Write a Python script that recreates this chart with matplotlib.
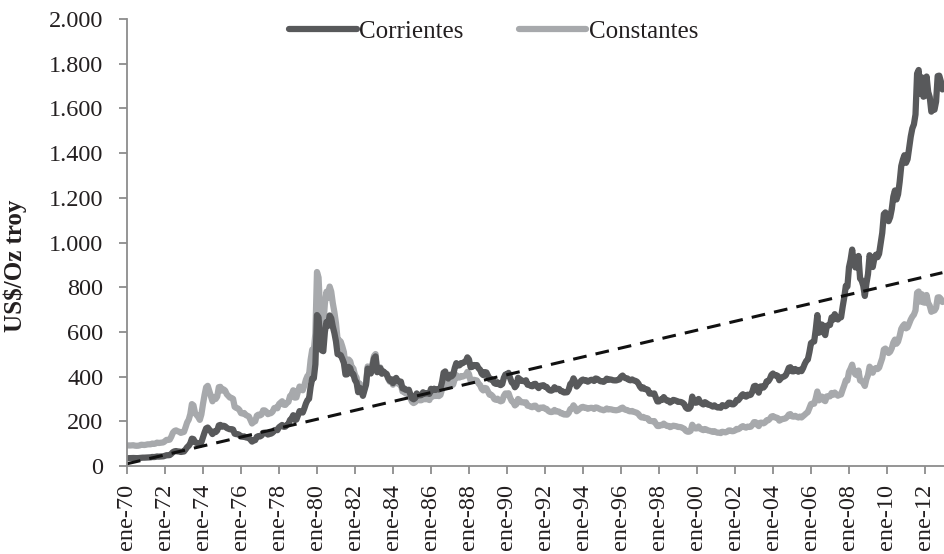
import matplotlib
matplotlib.use("Agg")
import matplotlib.pyplot as plt
import numpy as np

# Precio del oro, promedio mensual, ene-1970 a dic-2012 (US$/Oz troy)
corrientes = [
    34.9, 35.0, 35.1, 35.6, 35.9, 35.4, 35.3, 35.4, 36.2, 37.5, 37.4, 37.4,
    37.9, 38.7, 38.9, 39.0, 40.5, 40.1, 40.9, 42.7, 42.0, 42.5, 42.9, 43.5,
    45.8, 48.3, 48.3, 49.0, 54.6, 62.1, 65.7, 67.0, 65.5, 64.9, 62.9, 63.9,
    65.1, 74.2, 84.4, 90.5, 102.0, 122.5, 120.2, 106.8, 103.0, 100.1, 94.8, 106.7,
    129.2, 150.2, 168.4, 172.2, 163.3, 154.1, 143.0, 154.6, 151.8, 158.8, 181.7, 183.9,
    175.8, 180.0, 177.9, 170.0, 167.0, 164.2, 165.1, 163.2, 144.6, 142.8, 142.7, 139.3,
    131.6, 131.1, 132.6, 128.2, 127.1, 125.8, 117.9, 109.2, 114.1, 116.0, 130.6, 133.9,
    132.3, 136.3, 148.2, 149.2, 146.7, 140.8, 143.4, 145.0, 149.5, 159.6, 161.6, 160.4,
    173.2, 178.2, 183.7, 175.4, 176.3, 183.7, 188.8, 206.6, 212.4, 227.4, 206.1, 207.8,
    227.3, 245.7, 242.1, 239.2, 257.6, 279.1, 294.7, 301.0, 355.1, 391.7, 392.5, 455.1,
    675.3, 665.3, 553.6, 517.4, 513.8, 600.7, 644.3, 627.0, 673.6, 661.1, 623.5, 594.9,
    557.4, 500.5, 498.8, 495.8, 479.7, 460.8, 409.3, 410.2, 443.6, 437.7, 413.4, 410.1,
    384.1, 374.2, 330.4, 350.2, 333.9, 314.0, 339.1, 364.3, 436.1, 422.0, 413.9, 444.7,
    481.3, 490.4, 419.7, 432.8, 437.8, 413.0, 422.6, 416.2, 411.9, 393.6, 381.7, 388.2,
    370.9, 385.8, 394.3, 381.4, 377.7, 377.6, 347.4, 347.7, 341.1, 340.2, 341.2, 320.2,
    303.0, 298.6, 303.9, 324.9, 316.4, 316.4, 317.4, 330.0, 323.5, 326.0, 325.3, 322.7,
    345.4, 339.0, 346.0, 340.4, 342.4, 342.6, 348.3, 376.8, 418.0, 423.3, 398.0, 391.3,
    408.3, 401.1, 408.9, 438.4, 460.2, 449.6, 450.6, 460.6, 460.1, 465.4, 467.7, 486.2,
    476.7, 442.1, 443.6, 451.8, 451.3, 451.5, 437.7, 431.3, 413.4, 406.8, 420.2, 418.7,
    404.0, 387.9, 390.1, 384.2, 371.0, 367.6, 375.0, 365.4, 361.8, 366.9, 394.3, 409.4,
    410.1, 416.8, 393.1, 374.3, 369.1, 352.3, 361.2, 394.8, 389.2, 380.8, 381.4, 378.2,
    383.7, 363.8, 363.3, 358.4, 356.8, 366.7, 367.7, 356.2, 348.7, 358.7, 360.0, 361.7,
    354.5, 353.9, 344.3, 338.6, 337.2, 340.8, 352.6, 343.4, 345.6, 344.4, 335.0, 334.8,
    329.0, 329.3, 330.1, 342.2, 367.2, 371.5, 392.2, 378.5, 355.6, 364.2, 373.8, 383.3,
    387.0, 382.0, 384.0, 377.3, 381.4, 385.6, 385.5, 380.4, 391.6, 389.8, 384.4, 379.3,
    378.6, 376.5, 382.1, 391.0, 385.2, 387.6, 386.2, 383.7, 383.1, 383.1, 385.5, 387.5,
    399.4, 404.8, 396.2, 392.8, 392.0, 385.3, 383.5, 387.5, 383.1, 381.1, 377.8, 369.1,
    355.0, 346.6, 351.8, 344.5, 343.8, 340.8, 324.1, 324.0, 322.8, 324.9, 306.0, 289.0,
    289.1, 297.5, 295.9, 308.4, 299.1, 292.3, 292.9, 284.1, 289.0, 295.9, 294.1, 291.6,
    287.1, 287.3, 286.0, 282.6, 276.4, 261.3, 256.1, 256.7, 265.0, 310.7, 293.2, 283.1,
    284.3, 300.0, 286.4, 280.0, 275.3, 285.7, 281.6, 274.5, 273.7, 270.1, 266.0, 271.5,
    265.5, 261.9, 263.0, 260.5, 272.4, 270.2, 267.5, 272.4, 283.4, 283.1, 276.2, 275.9,
    281.7, 295.5, 294.0, 302.7, 314.5, 321.2, 313.3, 310.3, 319.2, 316.6, 319.2, 333.4,
    356.9, 359.0, 340.6, 328.2, 355.7, 356.4, 351.0, 359.8, 378.9, 378.9, 389.9, 407.6,
    414.0, 405.3, 406.7, 403.0, 383.8, 392.4, 398.1, 400.5, 405.3, 420.5, 439.4, 442.1,
    424.0, 423.4, 434.2, 429.2, 421.9, 430.7, 424.5, 437.9, 456.0, 469.9, 476.7, 509.8,
    549.9, 555.0, 557.1, 610.6, 675.4, 596.2, 633.7, 632.6, 598.2, 585.8, 627.8, 629.8,
    631.2, 664.8, 654.9, 679.4, 666.9, 655.5, 665.3, 665.4, 712.7, 754.6, 806.3, 803.2,
    889.6, 922.3, 968.4, 909.7, 888.7, 889.5, 939.8, 839.0, 829.9, 806.6, 760.9, 816.1,
    858.7, 943.2, 924.3, 890.2, 928.6, 945.7, 934.2, 949.4, 996.6, 1043.2, 1127.0, 1134.7,
    1117.9, 1095.4, 1113.3, 1148.7, 1205.4, 1232.9, 1192.6, 1215.8, 1271.0, 1342.0, 1369.9, 1390.6,
    1356.4, 1372.7, 1424.0, 1473.8, 1510.4, 1528.7, 1572.8, 1755.8, 1771.9, 1665.2, 1738.9, 1652.3,
    1656.1, 1742.6, 1673.8, 1650.1, 1585.5, 1596.7, 1594.3, 1630.3, 1744.8, 1746.6, 1721.6, 1684.8,
]

constantes = [
    92.3, 92.1, 91.9, 92.5, 93.0, 91.2, 90.5, 90.8, 92.3, 95.2, 94.4, 94.0,
    95.2, 97.0, 97.3, 97.3, 100.5, 98.8, 100.5, 104.7, 102.9, 103.9, 104.9, 105.8,
    111.4, 116.9, 116.7, 118.1, 131.3, 148.9, 156.8, 159.5, 155.6, 153.4, 148.3, 150.4,
    152.8, 173.0, 194.9, 207.6, 232.3, 277.1, 271.3, 236.8, 227.9, 219.5, 206.5, 231.0,
    277.3, 318.2, 352.3, 358.8, 336.0, 314.5, 289.5, 309.2, 300.0, 310.8, 352.8, 354.3,
    337.4, 342.9, 337.6, 321.4, 313.9, 306.3, 304.6, 300.6, 264.8, 260.1, 258.0, 251.0,
    236.7, 234.9, 237.2, 228.5, 225.0, 221.5, 206.5, 190.2, 198.1, 200.3, 225.2, 230.1,
    226.2, 230.6, 249.1, 248.7, 243.3, 232.0, 235.1, 236.9, 243.5, 259.1, 261.1, 258.3,
    277.1, 283.3, 289.7, 274.5, 273.3, 281.7, 287.4, 313.0, 319.4, 338.9, 305.8, 306.9,
    332.8, 355.6, 346.8, 338.8, 360.3, 386.0, 403.1, 407.9, 476.0, 520.9, 517.1, 593.4,
    868.0, 843.2, 691.1, 638.8, 628.9, 728.1, 780.0, 753.6, 802.9, 780.5, 728.4, 688.5,
    639.2, 568.8, 563.0, 556.5, 534.8, 509.2, 447.3, 444.9, 476.5, 468.6, 440.7, 436.3,
    407.3, 395.6, 349.6, 369.0, 348.5, 323.7, 347.8, 372.9, 445.5, 429.7, 422.3, 455.6,
    492.1, 500.9, 428.7, 438.9, 441.3, 415.1, 423.0, 415.4, 409.0, 389.7, 377.2, 383.2,
    364.0, 376.8, 384.3, 369.9, 365.3, 364.1, 333.7, 332.7, 324.9, 323.1, 324.0, 304.1,
    287.2, 281.7, 285.6, 303.9, 294.9, 294.1, 294.4, 305.6, 298.7, 299.9, 298.4, 295.2,
    315.1, 310.2, 318.0, 313.4, 314.4, 312.9, 318.1, 343.5, 379.3, 383.8, 360.5, 354.1,
    367.2, 359.4, 364.8, 389.0, 406.9, 396.1, 396.0, 402.6, 400.1, 403.6, 405.3, 421.3,
    412.0, 381.1, 380.8, 385.8, 384.1, 382.6, 369.4, 362.4, 345.1, 338.4, 349.3, 347.5,
    333.6, 319.0, 319.0, 312.1, 299.7, 296.2, 301.4, 293.3, 289.4, 292.1, 313.2, 324.7,
    321.9, 325.6, 305.4, 290.4, 285.7, 271.2, 277.0, 300.0, 293.3, 285.2, 285.1, 282.7,
    285.1, 269.9, 269.1, 265.1, 263.1, 269.6, 270.0, 260.8, 254.2, 261.1, 261.2, 262.3,
    256.7, 255.3, 247.2, 242.7, 241.4, 243.1, 251.0, 243.7, 244.6, 242.9, 235.9, 235.9,
    230.7, 230.1, 229.9, 237.6, 254.6, 257.3, 271.6, 261.4, 245.1, 250.0, 256.4, 262.9,
    264.7, 260.4, 260.9, 256.0, 258.6, 260.5, 259.8, 255.3, 262.1, 260.7, 256.8, 253.4,
    251.9, 249.5, 252.4, 257.4, 253.1, 254.2, 253.2, 251.0, 250.1, 249.3, 251.0, 252.4,
    258.7, 261.3, 254.5, 251.3, 250.3, 245.9, 244.3, 246.3, 242.8, 240.7, 238.2, 232.7,
    223.1, 217.2, 219.9, 215.0, 214.7, 212.6, 201.9, 201.5, 200.2, 201.1, 189.5, 179.2,
    178.9, 183.8, 182.4, 189.8, 183.7, 179.3, 179.5, 173.9, 176.7, 180.4, 179.3, 177.9,
    174.7, 174.7, 173.3, 170.0, 166.3, 157.2, 153.6, 153.6, 157.8, 184.7, 174.2, 168.2,
    168.4, 176.7, 167.3, 163.5, 160.5, 165.7, 163.0, 158.9, 157.6, 155.2, 152.8, 156.0,
    151.6, 149.0, 149.3, 147.3, 153.3, 151.8, 150.7, 153.5, 158.9, 159.3, 155.7, 156.1,
    159.1, 166.2, 164.4, 168.4, 174.9, 178.5, 174.0, 171.7, 176.4, 174.6, 176.1, 184.3,
    196.4, 196.1, 184.9, 178.6, 193.8, 194.0, 190.9, 194.9, 204.6, 204.8, 211.3, 221.2,
    223.5, 217.7, 217.0, 214.4, 203.0, 206.9, 210.2, 211.3, 213.4, 220.3, 230.1, 232.3,
    222.3, 220.8, 224.6, 220.6, 217.0, 221.4, 217.2, 223.0, 229.4, 235.9, 241.2, 259.0,
    277.3, 279.3, 278.8, 303.0, 333.5, 293.8, 311.4, 310.3, 294.8, 290.3, 311.6, 312.1,
    311.9, 326.7, 318.8, 328.7, 320.8, 314.5, 319.4, 320.1, 341.8, 361.2, 383.6, 382.5,
    421.4, 435.7, 453.6, 423.5, 410.3, 406.5, 427.2, 382.9, 379.3, 372.4, 358.2, 388.3,
    406.8, 444.5, 434.6, 417.5, 434.1, 438.4, 433.7, 439.9, 461.4, 482.5, 521.0, 525.6,
    515.9, 505.5, 511.6, 526.9, 552.4, 565.6, 547.1, 556.9, 582.0, 613.6, 626.1, 634.4,
    616.0, 620.3, 637.1, 655.3, 668.3, 677.3, 696.2, 775.2, 780.9, 735.5, 768.7, 732.1,
    730.5, 765.3, 729.6, 717.1, 690.0, 695.7, 695.9, 707.6, 754.0, 755.1, 747.9, 733.8,
]

# Tendencia lineal (valor inicial y final)
tendencia = [10, 865]

etiquetas_x = ["ene-%02d" % (a % 100) for a in range(1970, 2013, 2)]
ticks_y = [0, 200, 400, 600, 800, 1000, 1200, 1400, 1600, 1800, 2000]
etiquetas_y = ["0", "200", "400", "600", "800", "1.000", "1.200",
               "1.400", "1.600", "1.800", "2.000"]

plt.rcParams['font.family'] = ['Liberation Serif', 'DejaVu Serif']
texto = '#231f20'
eje = '#8c8c8c'

fig = plt.figure(figsize=(9.44, 5.54), dpi=100)
ax = fig.add_axes([0.1345, 0.1588, 0.8655, 0.8069])

meses = np.arange(len(corrientes))
l2, = ax.plot(meses, constantes, color='#a7a9ac', lw=4.5,
              solid_capstyle='round', solid_joinstyle='round', label='Constantes')
l1, = ax.plot(meses, corrientes, color='#58595b', lw=4.5,
              solid_capstyle='round', solid_joinstyle='round', label='Corrientes')
ax.plot([meses[0], meses[-1]], tendencia, color='#111111', lw=2.2,
        linestyle=(0, (4.5, 3.0)))

ax.set_xlim(0, 516)
ax.set_ylim(0, 2000)
ax.set_xticks(np.arange(len(etiquetas_x)) * 24)
ax.set_xticklabels(etiquetas_x, rotation=90, fontsize=17.5, color=texto)
ax.set_yticks(ticks_y)
ax.set_yticklabels(etiquetas_y, fontsize=17.5, color=texto)
ax.set_ylabel('US$/Oz troy', fontsize=18, fontweight='bold', color=texto)
ax.yaxis.set_label_coords(-0.122, 0.447)

for s in ['top', 'right']:
    ax.spines[s].set_visible(False)
for s in ['left', 'bottom']:
    ax.spines[s].set_color(eje)
    ax.spines[s].set_linewidth(1.3)
ax.tick_params(axis='both', direction='out', length=6, width=1.3, color=eje)
ax.tick_params(axis='y', pad=11)
ax.tick_params(axis='x', pad=7)

leg = ax.legend(handles=[l1, l2], loc='center', bbox_to_anchor=(0.449, 0.971),
                ncol=2, frameon=False, fontsize=18, handlelength=2.7,
                handletextpad=0.1, columnspacing=2.2)
for t in leg.get_texts():
    t.set_color(texto)

fig.savefig('out.png', dpi=100)
